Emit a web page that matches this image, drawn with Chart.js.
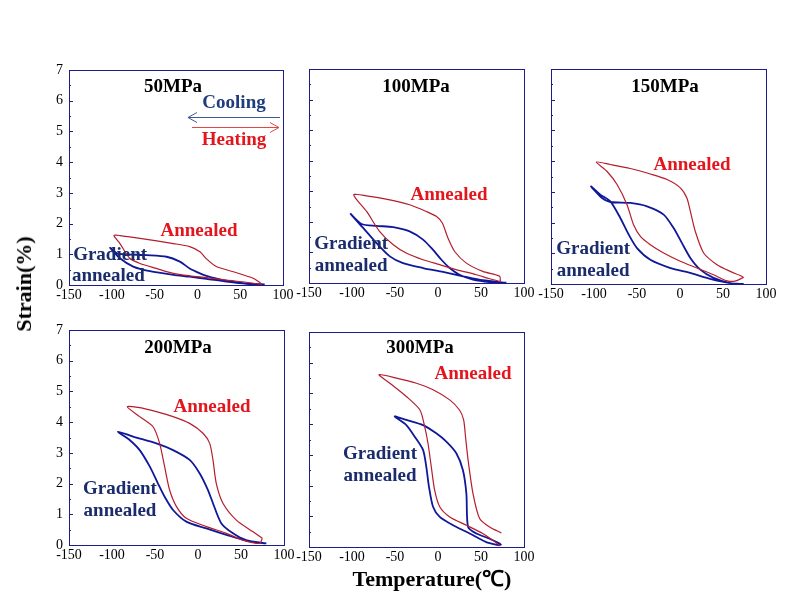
<!DOCTYPE html>
<html><head><meta charset="utf-8">
<script src="https://cdn.jsdelivr.net/npm/chart.js@4/dist/chart.umd.min.js"></script>
<style>
html,body{margin:0;padding:0;background:#fff;}
#wrap{position:relative;width:790px;height:600px;overflow:hidden;background:#fff;}
canvas{position:absolute;left:0;top:0;}
.t{position:absolute;font-family:"Liberation Serif","Times New Roman",serif;font-weight:bold;color:#000;line-height:1;white-space:nowrap;}
</style></head><body>
<div id="wrap">
<canvas id="c0" width="790" height="600"></canvas>
<canvas id="c1" width="790" height="600"></canvas>
<canvas id="c2" width="790" height="600"></canvas>
<canvas id="c3" width="790" height="600"></canvas>
<canvas id="c4" width="790" height="600"></canvas>
<div class="t" id="xt" style="left:432px;top:579px;font-size:22px;transform:translate(-50%,-50%);">Temperature(℃)</div>
<div class="t" id="yt" style="left:24px;top:284px;font-size:22px;transform:translate(-50%,-50%) rotate(-90deg);">Strain(%)</div>
</div>
<script>
// ---- tick labels ----
const xTickValues = [-150, -100, -50, 0, 50, 100];
const yTickValues = [0, 1, 2, 3, 4, 5, 6, 7];
const panelTitles = ['50MPa', '100MPa', '150MPa', '200MPa', '300MPa'];
const seriesNames = ['Annealed', 'Gradient annealed'];

// ---- 50 MPa ----
const ann50T = [75, 57, 34, 10.6, -9, -28, -48, -67, -79, -90.5, -97.5, -90.5, -67, -28, -9, 3, 10.6, 22, 42, 65, 73, 75];
const ann50S = [0.02, 0.09, 0.16, 0.24, 0.30, 0.38, 0.54, 0.70, 0.87, 1.35, 1.61, 1.61, 1.52, 1.35, 1.25, 1.08, 0.85, 0.60, 0.43, 0.22, 0.08, 0.02];
const grad50T = [78.6, 57, 34, 10.6, -9, -28, -55.5, -75, -90.5, -102, -94, -83, -59, -36, -20.5, -9, 3, 10.6, 30, 49.5, 69, 78.6];
const grad50S = [0.02, 0.04, 0.11, 0.20, 0.27, 0.33, 0.45, 0.60, 0.87, 1.21, 1.03, 1.00, 0.97, 0.92, 0.76, 0.54, 0.38, 0.30, 0.16, 0.08, 0.02, 0.02];

// ---- 100 MPa ----
const ann100T = [72.5, 60, 44.6, 21, 2, -17.4, -37, -52, -68, -83, -98, -83.3, -56, -33, -13.6, -2, 5, 11.6, 19.4, 33, 52, 71.7, 72.5];
const ann100S = [0.05, 0.14, 0.27, 0.44, 0.60, 0.76, 0.98, 1.25, 1.69, 2.34, 2.88, 2.85, 2.72, 2.56, 2.34, 2.18, 1.96, 1.47, 1.03, 0.65, 0.38, 0.22, 0.05];
const grad100T = [79.5, 52, 29, 5.8, -17.4, -40.7, -56, -71.7, -87, -101.6, -89, -71.7, -52, -33, -17.4, -6, 4, 13.6, 25, 40.7, 60, 79.5];
const grad100S = [0.01, 0.09, 0.22, 0.36, 0.49, 0.65, 0.87, 1.31, 1.80, 2.26, 1.93, 1.87, 1.83, 1.69, 1.42, 1.09, 0.76, 0.49, 0.27, 0.11, 0.03, 0.01];

// ---- 150 MPa ----
const ann150T = [74, 65, 55, 39, 19.8, 0.4, -19, -34.5, -46, -54, -61.6, -73, -85, -97.3, -81, -57.8, -34.5, -15, 0.4, 8, 12, 17.8, 27.5, 43, 58.5, 72, 74];
const ann150S = [0.22, 0.10, 0.10, 0.30, 0.52, 0.74, 1.01, 1.28, 1.55, 1.93, 2.58, 3.23, 3.67, 3.97, 3.89, 3.76, 3.58, 3.40, 3.13, 2.80, 2.37, 1.71, 1.01, 0.63, 0.41, 0.25, 0.20];
const grad150T = [74, 58.5, 35, 12, -11, -34.5, -50, -59.7, -69.4, -81, -92.6, -103.5, -90.7, -81, -57.8, -38.4, -19, -7.4, 2.3, 12, 23.6, 39, 58.5, 74];
const grad150S = [0.00, 0.03, 0.17, 0.36, 0.52, 0.79, 1.17, 1.61, 2.15, 2.69, 2.91, 3.18, 2.80, 2.67, 2.64, 2.53, 2.26, 1.82, 1.33, 0.85, 0.47, 0.20, 0.03, 0.00];

// ---- 200 MPa ----
const ann200T = [74.8, 71.7, 52, 33, 9.7, -13.6, -25, -33, -38.8, -44.6, -52.3, -67.8, -82.2, -67.8, -48.4, -29, -9.7, 5.8, 13.6, 17.4, 21.3, 29, 44.6, 64, 74.8];
const ann200S = [0.22, 0.05, 0.16, 0.38, 0.60, 0.87, 1.25, 1.79, 2.55, 3.31, 3.85, 4.18, 4.50, 4.47, 4.34, 4.18, 3.96, 3.64, 3.31, 2.77, 2.00, 1.36, 0.81, 0.43, 0.22];
const grad200T = [79.5, 56, 33, 9.7, -13.6, -29, -38.8, -46.5, -56, -67.8, -79.5, -93, -75.6, -48.4, -29, -9.7, 2, 11.6, 17.4, 27, 40.7, 56, 79.5];
const grad200S = [0.05, 0.14, 0.33, 0.54, 0.76, 1.14, 1.57, 2.00, 2.55, 3.09, 3.42, 3.69, 3.53, 3.31, 3.09, 2.77, 2.33, 1.79, 1.36, 0.71, 0.38, 0.16, 0.05];

// ---- 300 MPa ----
const ann300T = [71.7, 62, 52, 33, 13.6, 2, -3.9, -7.8, -11.6, -15.5, -21, -36.8, -56, -68.6, -48.4, -25, -5.8, 13.6, 25, 29.8, 32, 35, 40.7, 48.4, 60, 73.6];
const ann300S = [0.05, 0.25, 0.44, 0.71, 0.98, 1.31, 1.85, 2.61, 3.37, 3.92, 4.46, 4.90, 5.33, 5.61, 5.50, 5.33, 5.12, 4.79, 4.46, 4.14, 3.59, 2.83, 1.74, 0.93, 0.65, 0.46];
const grad300T = [71.7, 56, 36.8, 17.4, 2, -5.8, -10.5, -13.6, -17.4, -27, -36.8, -50.4, -36.8, -17.4, -2, 9.7, 21.3, 29, 33, 35, 44.6, 60, 71.7, 73.6];
const grad300S = [0.05, 0.16, 0.44, 0.71, 0.98, 1.31, 1.96, 2.61, 3.16, 3.59, 3.97, 4.25, 4.14, 3.97, 3.70, 3.43, 3.05, 2.50, 1.74, 0.65, 0.44, 0.27, 0.11, 0.05];

const annT = [ann50T, ann100T, ann150T, ann200T, ann300T];
const annS = [ann50S, ann100S, ann150S, ann200S, ann300S];
const gradT = [grad50T, grad100T, grad150T, grad200T, grad300T];
const gradS = [grad50S, grad100S, grad150S, grad200S, grad300S];

// ---- layout (pixel chart areas) ----
const areas = [
  {l: 69, t: 70, r: 283, b: 285, yLabels: true},
  {l: 309, t: 69, r: 524, b: 283, yLabels: false},
  {l: 551, t: 69, r: 766, b: 284, yLabels: false},
  {l: 69, t: 330, r: 284, b: 545, yLabels: true},
  {l: 309, t: 332, r: 524, b: 547, yLabels: false}
];
const Y_AXIS_W = 30, X_AXIS_H = 24;

// annotation positions (data coords)
const labelPos = [
  {title: [-28.5, 6.45], ann: [1.9, 1.76], grad: [-102, 0.98], grad2: [-104, 0.29]},
  {title: [-25.6, 6.41], ann: [12.8, 2.88], grad: [-101, 1.28], grad2: [-101, 0.56]},
  {title: [-17.4, 6.41], ann: [14, 3.87], grad: [-101, 1.14], grad2: [-101, 0.42]},
  {title: [-23.3, 6.41], ann: [16.3, 4.49], grad: [-90.7, 1.82], grad2: [-90.7, 1.10]},
  {title: [-20.9, 6.48], ann: [40.7, 5.63], grad: [-67.4, 3.03], grad2: [-67.4, 2.31]}
];

const FONT = '"Liberation Serif", "Times New Roman", serif';
const RED_LINE = '#b41e2c';
const BLUE_LINE = '#10189a';
const RED_TEXT = '#e3151d';
const BLUE_TEXT = '#1b2c6c';

function pts(T, S) { return T.map((t, i) => ({x: t, y: S[i]})); }

const decorPlugin = {
  id: 'decor',
  afterDraw(chart) {
    const ctx = chart.ctx, ca = chart.chartArea;
    const xs = chart.scales.x, ys = chart.scales.y;
    const idx = chart.options.plugins.decor.idx;
    ctx.save();
    // frame
    ctx.strokeStyle = '#1c1c8a';
    ctx.lineWidth = 1;
    ctx.strokeRect(Math.round(ca.left) + 0.5, Math.round(ca.top) + 0.5, Math.round(ca.right - ca.left), Math.round(ca.bottom - ca.top));
    // inward y ticks
    ctx.beginPath();
    for (let v = 0; v <= 7.0001; v += 0.5) {
      const y = Math.round(ys.getPixelForValue(v)) + 0.5;
      const len = Math.abs(v - Math.round(v)) < 1e-6 ? 4 : 2;
      ctx.moveTo(Math.round(ca.left), y);
      ctx.lineTo(Math.round(ca.left) + len, y);
    }
    ctx.stroke();
    // texts
    const lp = labelPos[idx];
    ctx.textAlign = 'center';
    ctx.textBaseline = 'middle';
    ctx.font = 'bold 19px ' + FONT;
    ctx.fillStyle = '#000';
    ctx.fillText(panelTitles[idx], xs.getPixelForValue(lp.title[0]), ys.getPixelForValue(lp.title[1]));
    ctx.fillStyle = RED_TEXT;
    ctx.fillText('Annealed', xs.getPixelForValue(lp.ann[0]), ys.getPixelForValue(lp.ann[1]));
    ctx.fillStyle = BLUE_TEXT;
    ctx.fillText('Gradient', xs.getPixelForValue(lp.grad[0]), ys.getPixelForValue(lp.grad[1]));
    ctx.fillText('annealed', xs.getPixelForValue(lp.grad2[0]), ys.getPixelForValue(lp.grad2[1]));
    if (idx === 0) {
      // cooling / heating arrows
      ctx.fillStyle = '#1f3c7c';
      ctx.fillText('Cooling', xs.getPixelForValue(42.8), ys.getPixelForValue(5.93));
      ctx.fillStyle = RED_TEXT;
      ctx.fillText('Heating', xs.getPixelForValue(42.8), ys.getPixelForValue(4.72));
      const by = Math.round(ys.getPixelForValue(5.47)) + 0.5;
      const bx1 = xs.getPixelForValue(-11), bx2 = xs.getPixelForValue(96.5);
      ctx.strokeStyle = '#3d5a96';
      ctx.lineWidth = 1;
      ctx.beginPath();
      ctx.moveTo(bx2, by); ctx.lineTo(bx1, by);
      ctx.moveTo(bx1 + 9, by - 5); ctx.lineTo(bx1, by); ctx.lineTo(bx1 + 9, by + 5);
      ctx.stroke();
      const ry = Math.round(ys.getPixelForValue(5.15)) + 0.5;
      const rx1 = xs.getPixelForValue(-6.3), rx2 = xs.getPixelForValue(95.3);
      ctx.strokeStyle = '#e04848';
      ctx.beginPath();
      ctx.moveTo(rx1, ry); ctx.lineTo(rx2, ry);
      ctx.moveTo(rx2 - 9, ry - 5); ctx.lineTo(rx2, ry); ctx.lineTo(rx2 - 9, ry + 5);
      ctx.stroke();
    }
    ctx.restore();
  }
};

areas.forEach((a, i) => {
  new Chart(document.getElementById('c' + i), {
    type: 'scatter',
    data: {
      datasets: [
        {label: seriesNames[0], data: pts(annT[i], annS[i]), showLine: true, borderColor: RED_LINE, borderWidth: 1.2, pointRadius: 0, tension: 0.25, fill: false},
        {label: seriesNames[1], data: pts(gradT[i], gradS[i]), showLine: true, borderColor: BLUE_LINE, borderWidth: 1.8, pointRadius: 0, tension: 0.25, fill: false}
      ]
    },
    options: {
      responsive: false,
      animation: false,
      events: [],
      layout: {padding: {left: a.l - Y_AXIS_W, top: a.t, right: 790 - a.r, bottom: 600 - a.b - X_AXIS_H}},
      plugins: {legend: {display: false}, tooltip: {enabled: false}, decor: {idx: i}},
      scales: {
        x: {
          type: 'linear', min: -150, max: 100,
          afterBuildTicks: s => { s.ticks = xTickValues.map(v => ({value: v})); },
          afterFit: s => { s.height = X_AXIS_H; },
          grid: {display: false, drawTicks: false},
          border: {display: false},
          ticks: {color: '#000', font: {family: FONT, size: 14}, padding: 2, maxRotation: 0, autoSkip: false}
        },
        y: {
          type: 'linear', min: 0, max: 7,
          afterBuildTicks: s => { s.ticks = yTickValues.map(v => ({value: v})); },
          afterFit: s => { s.width = Y_AXIS_W; },
          grid: {display: false, drawTicks: false},
          border: {display: false},
          ticks: {display: a.yLabels, color: '#000', font: {family: FONT, size: 14}, padding: 6, autoSkip: false}
        }
      }
    },
    plugins: [decorPlugin]
  });
});
</script>
</body></html>
